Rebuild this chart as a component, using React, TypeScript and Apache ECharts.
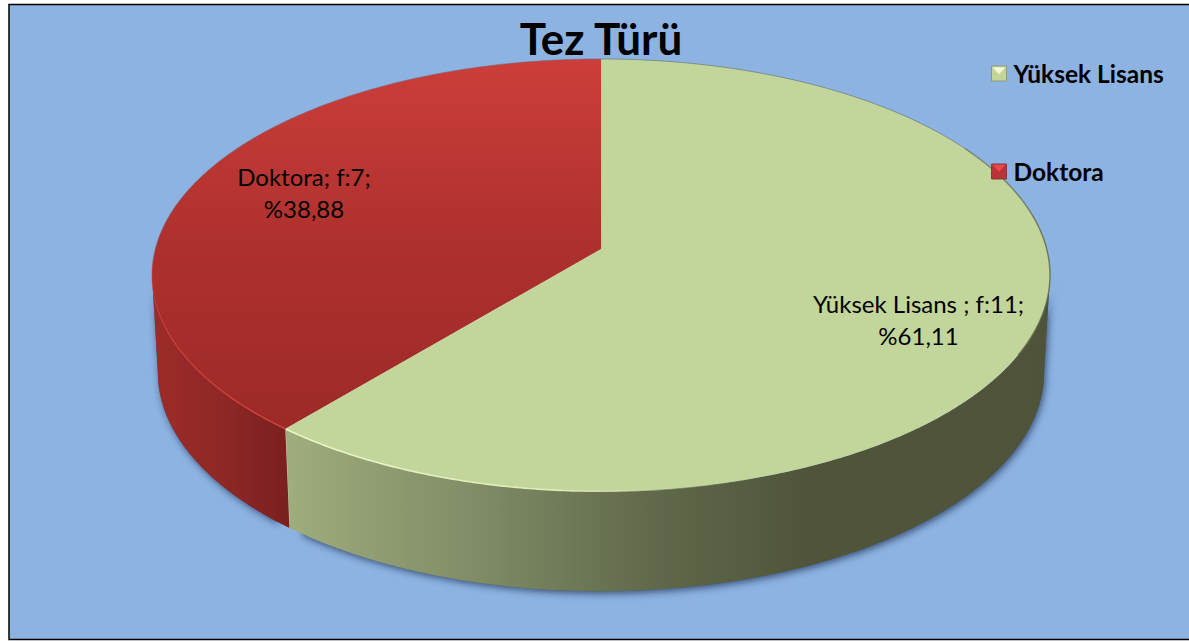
import React, { useEffect, useRef } from "react";
import * as echarts from "echarts";

const titleText = "Tez Türü";
const categories = ["Yüksek Lisans", "Doktora"];
const counts = [11, 7];
const percents = ["%61,11", "%38,88"];
const labelNames = ["Yüksek Lisans ", "Doktora"];
const total = counts[0] + counts[1];

const FONT = "Lato";
const DEG = Math.PI / 180;

// perspective projection of the disc on to the screen
const CX = 601;
const APEX_Y = 249;
const P = 0.1208;
const R = 445.7;
const S = 213;
const topPoint = (deg: number): number[] => {
  const u = Math.sin(deg * DEG);
  const v = Math.cos(deg * DEG);
  const w = 1 + P * v;
  return [CX + (R * u) / w, APEX_Y - (S * v) / w];
};
const bottomPoint = (deg: number): number[] => {
  const [x, y] = topPoint(deg);
  return [CX + (x - CX) * 0.987, 372 + (y - 275) * 1.014];
};
const arc = (fn: (d: number) => number[], a: number, b: number): number[][] => {
  const n = Math.max(2, Math.ceil(Math.abs(b - a) * 2));
  const out: number[][] = [];
  for (let i = 0; i <= n; i++) out.push(fn(a + ((b - a) * i) / n));
  return out;
};
const grad = (x: number, y: number, x2: number, y2: number, stops: [number, string][]) => ({
  type: "linear",
  x,
  y,
  x2,
  y2,
  global: true,
  colorStops: stops.map(([offset, color]) => ({ offset, color })),
});

const sweep = (i: number) => (counts[i] / total) * 360;
const startOf = (i: number) => (i === 0 ? 0 : sweep(0));

const wallFills = [
  grad(285, 0, 1050, 0, [
    [0, "#A0AD7E"],
    [0.23, "#828F68"],
    [0.49, "#5F684A"],
    [0.68, "#50553A"],
    [1, "#4F533A"],
  ]),
  grad(155, 0, 290, 0, [
    [0, "#9C2B29"],
    [0.5, "#8E2826"],
    [1, "#7A201E"],
  ]),
];
const topFills = [
  "#C2D59B",
  grad(0, 59, 0, 430, [
    [0, "#CC3E3A"],
    [0.5, "#AE302E"],
    [1, "#9C2A28"],
  ]),
];
// silhouette tangents of the projected disc
const RIGHT_EDGE = 97;
const LEFT_EDGE = 263;
const wallRanges = [
  [RIGHT_EDGE, sweep(0)],
  [sweep(0), LEFT_EDGE],
];
const shadowRanges = [
  [RIGHT_EDGE, sweep(0) - 2],
  [sweep(0) + 2, LEFT_EDGE],
];
const labelPos = [
  [918.5, 319.5],
  [304, 192],
];

const renderSlice = (i: number) => () => {
  const a = startOf(i);
  const b = a + sweep(i);
  const [wa, wb] = wallRanges[i];
  const [sa, sb] = shadowRanges[i];
  const wallPts = [...arc(topPoint, wa, wb), ...arc(bottomPoint, wb, wa)];
  const shadowPts = [...arc(topPoint, sa, sb), ...arc(bottomPoint, sb, sa)];
  const children: any[] = [
    {
      type: "polygon",
      shape: { points: shadowPts },
      style: {
        fill: "#3F5B85",
        shadowBlur: 7,
        shadowColor: "rgba(35,55,90,0.75)",
        shadowOffsetX: 1.5,
        shadowOffsetY: 2.5,
      },
    },
    { type: "polygon", shape: { points: wallPts }, style: { fill: wallFills[i] } },
    {
      type: "polygon",
      shape: { points: [[CX, APEX_Y], ...arc(topPoint, a, b)] },
      style: { fill: topFills[i] },
    },
  ];
  if (i === 0) {
    children.push(
      {
        type: "polyline",
        shape: { points: arc(topPoint, 118, b) },
        style: {
          fill: "none",
          lineWidth: 1.6,
          stroke: grad(285, 0, 760, 0, [
            [0, "#EEF6C8"],
            [0.6, "#DCE9B4"],
            [1, "rgba(194,213,155,0)"],
          ]),
        },
      },
      {
        type: "polyline",
        shape: { points: arc(topPoint, 60, 118) },
        style: {
          fill: "none",
          lineWidth: 1.4,
          stroke: grad(760, 0, 1050, 0, [
            [0, "rgba(120,130,90,0)"],
            [1, "rgba(96,104,72,0.85)"],
          ]),
        },
      },
      {
        type: "polyline",
        shape: { points: arc(topPoint, a, 62) },
        style: { fill: "none", lineWidth: 1, stroke: "rgba(110,125,120,0.75)" },
      },
      {
        type: "polyline",
        shape: { points: [[CX, APEX_Y], topPoint(a)] },
        style: { fill: "none", lineWidth: 1, stroke: "rgba(205,190,130,0.7)" },
      },
      {
        type: "polyline",
        shape: { points: [topPoint(b), bottomPoint(b)] },
        style: { fill: "none", lineWidth: 1, stroke: "rgba(214,222,170,0.7)" },
      },
      {
        type: "polyline",
        shape: { points: [[CX, APEX_Y], topPoint(b)] },
        style: { fill: "none", lineWidth: 1, stroke: "rgba(225,238,180,0.8)" },
      }
    );
  } else {
    children.push(
      {
        type: "polyline",
        shape: { points: arc(topPoint, a, LEFT_EDGE + 4) },
        style: {
          fill: "none",
          lineWidth: 1.3,
          stroke: grad(285, 429, 152, 280, [
            [0, "#D6433E"],
            [0.8, "#C63C38"],
            [1, "rgba(190,60,58,0.4)"],
          ]),
        },
      },
      {
        type: "polyline",
        shape: { points: arc(topPoint, LEFT_EDGE + 4, b) },
        style: { fill: "none", lineWidth: 1, stroke: "rgba(120,105,125,0.6)" },
      }
    );
  }
  children.push({
    type: "text",
    z2: 50,
    style: {
      text: `${labelNames[i]}; f:${counts[i]};\n${percents[i]}`,
      x: labelPos[i][0],
      y: labelPos[i][1],
      align: "center",
      verticalAlign: "middle",
      fill: "#000000",
      font: `400 24px ${FONT}`,
      lineHeight: 32,
    },
  });
  return { type: "group", children };
};

const legendColors = ["#C2D59B", "#B83436"];
const bevels = [66.7, 164.3];

export default function App() {
  const ref = useRef<HTMLDivElement>(null);
  useEffect(() => {
    const chart = echarts.init(ref.current!, undefined, { renderer: "svg" });
    chart.setOption({
      animation: false,
      backgroundColor: "#FFFFFF",
      title: {
        text: titleText,
        left: 596,
        top: 11,
        textAlign: "center",
        textStyle: { fontFamily: FONT, fontWeight: 700, fontSize: 44, color: "#000000" },
        z: 20,
      },
      legend: {
        orient: "vertical",
        left: 991,
        top: 61,
        itemWidth: 15,
        itemHeight: 15,
        itemGap: 73,
        padding: 0,
        selectedMode: false,
        textStyle: {
          fontFamily: FONT,
          fontWeight: 700,
          fontSize: 24.5,
          color: "#000000",
          padding: [0, 0, 0, 2],
        },
        data: categories.map((name, i) => ({
          name,
          icon: "rect",
          itemStyle: { color: legendColors[i], borderColor: i === 0 ? "#8F9A78" : "#8A3A3A", borderWidth: 1 },
        })),
        z: 20,
      },
      graphic: {
        elements: [
          {
            type: "rect",
            z: -5,
            silent: true,
            shape: { x: 9, y: 4.5, width: 1190, height: 635 },
            style: { fill: "#8DB3E2", stroke: "#000000", lineWidth: 1.5 },
          },
          ...bevels.map((y, i) => ({
            type: "polygon",
            z: 30,
            silent: true,
            shape: { points: [[992.5, y + 0.5], [1005.5, y + 0.5], [999, y + 7.5]] },
            style: { fill: i === 0 ? "#F4F7D0" : "#E8484C" },
          })),
        ],
      },
      series: [0, 1].map((i) => ({
        type: "custom",
        name: categories[i],
        coordinateSystem: "none",
        silent: true,
        z: 5,
        itemStyle: { color: legendColors[i] },
        data: [counts[i]],
        renderItem: renderSlice(i),
      })),
    });
    return () => chart.dispose();
  }, []);
  return <div ref={ref} style={{ position: "fixed", left: 0, top: 0, width: 1189, height: 642 }} />;
}
